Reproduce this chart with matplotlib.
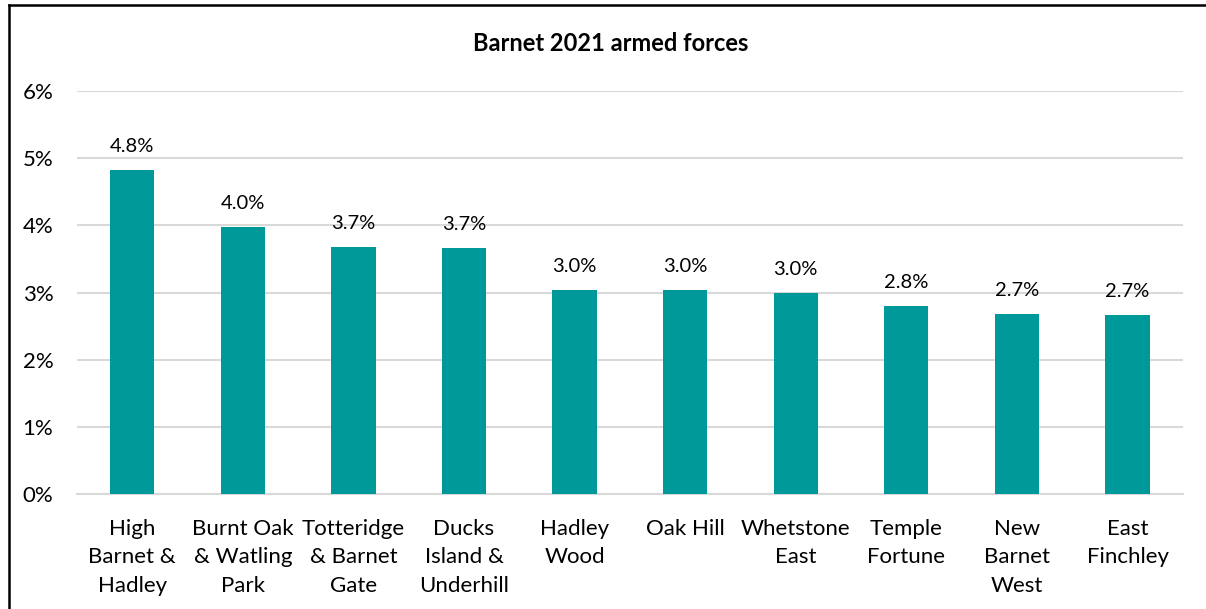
import matplotlib
matplotlib.use('Agg')
import matplotlib.pyplot as plt
from matplotlib.lines import Line2D
from matplotlib.ticker import MultipleLocator, FuncFormatter

wards = ['High\nBarnet &\nHadley', 'Burnt Oak\n& Watling\nPark', 'Totteridge\n& Barnet\nGate',
         'Ducks\nIsland &\nUnderhill', 'Hadley\nWood', 'Oak Hill', 'Whetstone\nEast',
         'Temple\nFortune', 'New\nBarnet\nWest', 'East\nFinchley']
armed_pct = [4.82, 3.97, 3.67, 3.66, 3.03, 3.03, 2.99, 2.80, 2.68, 2.66]

plt.rcParams['font.family'] = ['Lato', 'DejaVu Sans']
bar_color = '#009999'
grid_color = '#d9d9d9'

fig = plt.figure(figsize=(12.06, 6.09), dpi=100)
ax = fig.add_axes([0.0638, 0.1888, 0.917, 0.6618])

x = range(len(wards))
bars = ax.bar(x, armed_pct, width=0.40, color=bar_color, zorder=3)

ax.set_xlim(-0.5, len(wards) - 0.5)
ax.set_ylim(0, 6)
ax.yaxis.set_major_locator(MultipleLocator(1))
ax.yaxis.set_major_formatter(FuncFormatter(lambda v, p: '%d%%' % v))
ax.grid(axis='y', color=grid_color, linewidth=1.5, zorder=0)
ax.set_axisbelow(True)

for s in ['top', 'right', 'left']:
    ax.spines[s].set_visible(False)
ax.spines['bottom'].set_color(grid_color)
ax.spines['bottom'].set_linewidth(1.5)

ax.set_xticks(list(x))
ax.set_xticklabels(wards, fontsize=16, linespacing=1.52)
ax.tick_params(axis='x', length=0, pad=18)
ax.tick_params(axis='y', length=0, pad=17, labelsize=16)

# value labels above bars
for b, v in zip(bars, armed_pct):
    ax.annotate('%.1f%%' % v, (b.get_x() + b.get_width() / 2, v),
                xytext=(0, 11), textcoords='offset points',
                ha='center', va='bottom', fontsize=14.5)

fig.text(0.506, 0.928, 'Barnet 2021 armed forces', ha='center', va='center',
         fontsize=17, fontweight='bold')

# frame of the screenshot (left and top edges)
fig.add_artist(Line2D([0.0075, 0.0075], [0, 0.992], transform=fig.transFigure,
                      color='black', linewidth=1.8))
fig.add_artist(Line2D([0.0075, 1.0], [0.992, 0.992], transform=fig.transFigure,
                      color='black', linewidth=1.8))

fig.savefig('out.png', dpi=100)
